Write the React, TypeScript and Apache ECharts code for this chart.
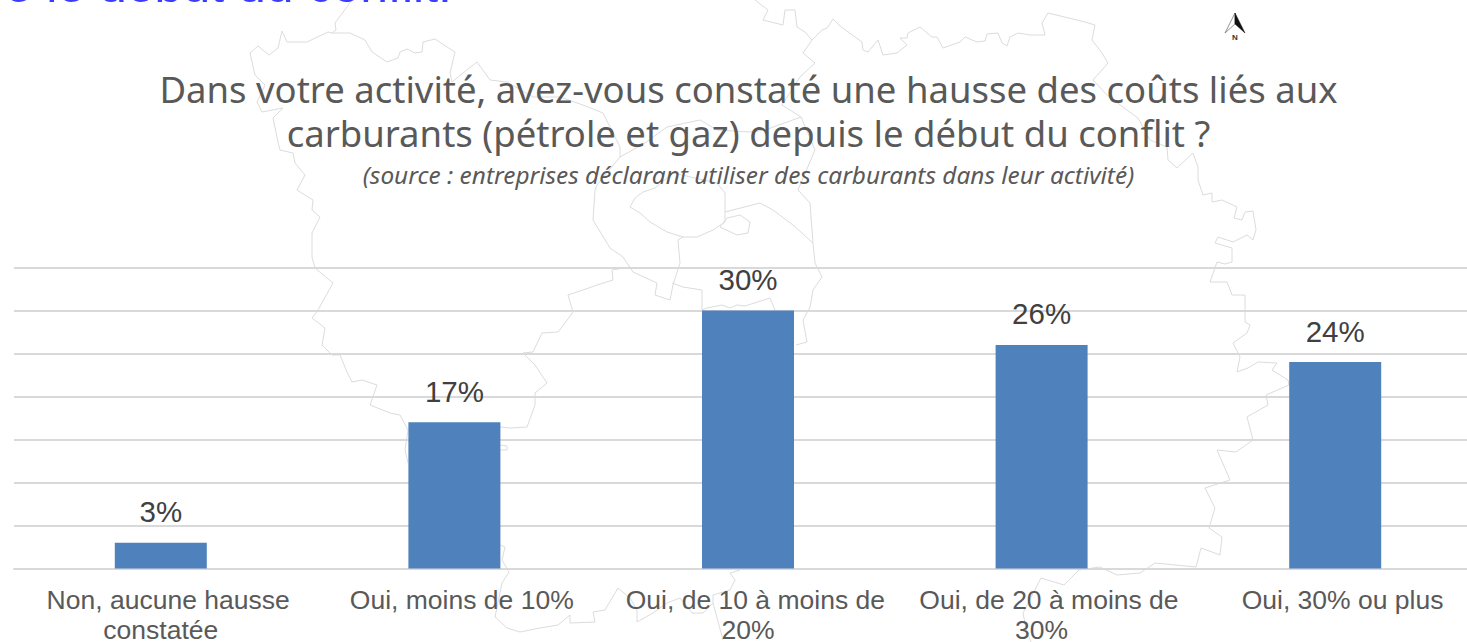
import React, { useEffect, useRef } from "react";
import * as echarts from "echarts";

const categories = [
  "Non, aucune hausse\nconstatée",
  "Oui, moins de 10%",
  "Oui, de 10 à moins de\n20%",
  "Oui, de 20 à moins de\n30%",
  "Oui, 30% ou plus",
];
const values = [3, 17, 30, 26, 24];
const titleText = "Dans votre activité, avez-vous constaté une hausse des coûts liés aux\ncarburants (pétrole et gaz) depuis le début du conflit ?";
const subtitleText = "(source : entreprises déclarant utiliser des carburants dans leur activité)";
const clippedHeading = "e le début du conflit.";

// Background map outline, traced decoration (not data)
const mapLines: number[][][] = [
  [[352,0],[335,23],[336,30],[332,33],[328,32],[307,42],[287,42],[282,31],[278,48],[269,55],[258,46],[250,53],[255,75],[265,85],[257,102],[262,112],[283,108],[273,118],[278,142],[280,150],[293,153],[295,163],[305,175],[297,190],[313,200],[312,210],[320,217],[312,233],[312,257],[315,268],[333,283],[318,310],[312,318],[325,328],[322,345],[332,355],[340,355],[347,372],[352,382],[362,380],[377,385],[370,405],[390,413],[400,415],[408,430],[405,450],[408,463]],
  [[332,33],[350,33],[365,40],[372,52],[387,62],[398,58],[400,52],[407,49],[415,53],[422,52],[423,42],[435,39],[447,47],[455,52],[450,73],[452,82]],
  [[452,82],[463,73],[477,62],[490,80],[507,82],[533,97],[560,97],[583,105],[603,113],[610,127],[620,147],[620,157],[597,185],[595,190],[593,220],[610,248],[623,257],[633,272],[657,283],[655,295],[670,300],[673,285],[680,263],[678,240],[683,237]],
  [[620,157],[645,143],[667,127],[700,120],[717,130],[750,132],[765,130],[801,117]],
  [[630,207],[635,198],[643,192],[655,188],[673,173],[717,183],[725,193],[725,222],[713,230],[697,237],[683,237],[667,232],[650,222],[640,213],[630,207]],
  [[725,212],[760,203],[773,210],[793,225],[813,243]],
  [[720,227],[727,218],[740,215],[750,222],[748,233],[737,235],[720,227]],
  [[672,283],[683,287],[702,290],[702,310]],
  [[702,310],[707,308],[722,305],[730,308],[737,305],[745,306],[770,298],[775,310]],
  [[755,0],[768,10],[763,20],[783,25],[785,10],[795,10],[797,27],[805,32],[812,40],[822,30],[827,28],[833,19],[840,26],[862,42],[863,50],[868,52],[878,40],[883,55],[897,53],[907,45],[900,38],[907,38],[908,33],[920,27],[932,37],[937,37],[943,48],[960,42],[965,37],[977,42],[985,41],[987,34],[998,33],[1002,43],[1007,46],[1010,37],[1018,33],[1030,35],[1045,35],[1042,23],[1048,13],[1085,22],[1095,25],[1092,40],[1102,53],[1108,63],[1102,70],[1093,80],[1107,95],[1127,110],[1138,118],[1150,140],[1167,147],[1168,160],[1177,168],[1193,153],[1198,167],[1198,180],[1203,195],[1212,193],[1212,202],[1222,200],[1237,207],[1234,218],[1242,220],[1245,212],[1253,211],[1256,230],[1253,240],[1247,235],[1233,242],[1218,237],[1215,243],[1232,248],[1232,262],[1225,264],[1217,262],[1210,282],[1227,282],[1232,295],[1245,295],[1245,322],[1250,325],[1247,333],[1233,343],[1240,357],[1237,372],[1248,368],[1258,362],[1277,363],[1272,370],[1288,380],[1289,385],[1266,395],[1268,405],[1247,417],[1253,440],[1236,452],[1217,450],[1230,480],[1205,488],[1215,508],[1209,528],[1222,537],[1220,555],[1201,548],[1196,567],[1155,563],[1140,573],[1117,575],[1100,567],[1079,570],[1064,585],[1041,578],[1023,613],[1027,633],[1031,642]],
  [[812,40],[803,53],[815,63],[800,77],[782,105],[801,117],[815,150],[798,190],[810,203],[813,243],[815,263],[822,277],[813,290],[810,307],[803,320],[807,342],[796,345]],
  [[568,295],[583,290],[597,285],[613,280],[612,270],[630,267]],
  [[568,295],[573,312],[565,323],[558,332],[542,333],[533,352],[523,353],[535,365],[547,383],[535,393],[535,405],[527,427],[510,428],[500,427]],
  [[500,445],[507,446],[507,450],[500,450]],
  [[500,545],[505,547],[502,560],[509,572],[502,583],[495,617],[507,628],[520,632],[540,628],[558,625],[570,615],[570,623],[595,622],[593,612],[605,610],[618,588],[630,598],[637,610],[637,622],[653,613],[667,603],[680,598],[692,613],[703,613],[713,603],[723,640]],
  [[713,603],[713,595],[730,590],[735,580],[730,573],[740,570]],
];

export default function App() {
  const ref = useRef<HTMLDivElement>(null);
  useEffect(() => {
    const chart = echarts.init(ref.current!, undefined, { renderer: "svg", width: 1467, height: 642 });
    const mapGraphics = mapLines.map((points) => ({
      type: "polyline",
      silent: true,
      shape: { points },
      style: { stroke: "#dcdcdc", lineWidth: 1, fill: "none" },
    }));
    chart.setOption({
      animation: false,
      backgroundColor: "#ffffff",
      title: {
        text: titleText,
        subtext: subtitleText,
        left: 743.5,
        top: 62,
        textAlign: "center",
        itemGap: 4,
        textStyle: { fontFamily: "Noto Sans", fontSize: 36.5, fontWeight: "normal", color: "#595959", lineHeight: 44 },
        subtextStyle: { fontFamily: "Noto Sans", fontSize: 24.4, fontStyle: "italic", color: "#595959", lineHeight: 30 },
      },
      graphic: [
        ...mapGraphics,
        {
          type: "text",
          x: 452,
          y: 10,
          silent: true,
          style: { text: clippedHeading, font: "50px 'Liberation Sans'", fill: "#3a3dff", align: "right", verticalAlign: "bottom" },
        },
        { type: "polygon", silent: true, shape: { points: [[1235,13],[1225,33],[1235,24]] }, style: { fill: "#ffffff", stroke: "#777777", lineWidth: 0.8 } },
        { type: "polygon", silent: true, shape: { points: [[1235,13],[1245,33],[1235,24]] }, style: { fill: "#111111", stroke: "#111111", lineWidth: 0.5 } },
        { type: "text", x: 1235, y: 37, silent: true, style: { text: "N", font: "bold 8px 'Liberation Sans'", fill: "#333333", align: "center", verticalAlign: "middle" } },
      ],
      grid: { left: 14, width: 1468, top: 267.5, bottom: 73.5, containLabel: false, outerBoundsMode: "none" },
      xAxis: {
        type: "category",
        data: categories,
        axisTick: { show: false },
        axisLine: { show: true, lineStyle: { color: "#d9d9d9", width: 2 } },
        axisLabel: {
          interval: 0,
          margin: 16,
          fontFamily: "Liberation Sans",
          fontSize: 26.5,
          lineHeight: 30,
          color: "#595959",
          formatter: (v: string) => "\u00A0\u00A0" + v,
        },
      },
      yAxis: {
        type: "value",
        min: 0,
        max: 35,
        interval: 5,
        axisLabel: { show: false },
        axisLine: { show: false },
        axisTick: { show: false },
        splitLine: { show: true, lineStyle: { color: "#d9d9d9", width: 2 } },
      },
      series: [
        {
          type: "bar",
          data: values,
          barWidth: 92,
          itemStyle: { color: "#4f81bd" },
          label: {
            show: true,
            position: "top",
            distance: 16,
            formatter: "{c}%",
            fontFamily: "Liberation Sans",
            fontSize: 29.5,
            color: "#404040",
          },
        },
      ],
    });
    return () => chart.dispose();
  }, []);
  return <div ref={ref} style={{ position: "fixed", left: 0, top: 0, width: 1467, height: 642 }} />;
}
